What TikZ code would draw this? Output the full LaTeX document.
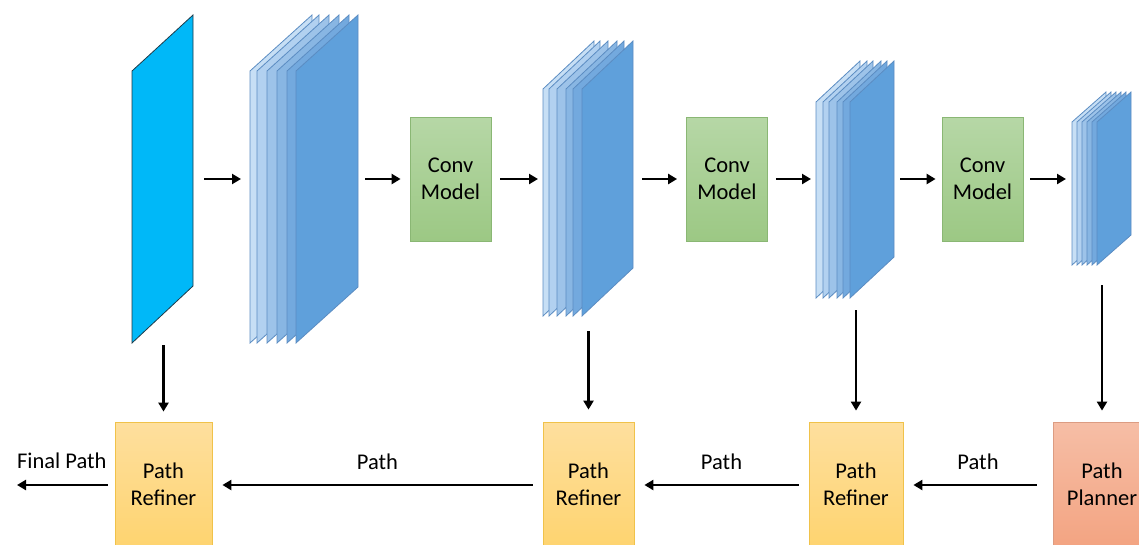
\documentclass[tikz,border=0pt]{standalone}
\usepackage{fontspec}
\setmainfont{Carlito}
\usetikzlibrary{arrows.meta,fit}

% sheet fills, back to front
\definecolor{sh1}{HTML}{C7DFF5}
\definecolor{sh2}{HTML}{B2D1F0}
\definecolor{sh3}{HTML}{9DC3E9}
\definecolor{sh4}{HTML}{88B6E3}
\definecolor{sh5}{HTML}{73A9DE}
\definecolor{sh6}{HTML}{5FA0DB}
\definecolor{sheetline}{HTML}{5B8CC2}
\definecolor{inputfill}{HTML}{00B8F8}
\definecolor{inputline}{HTML}{1F3A48}
\definecolor{convtop}{HTML}{B6D7A6}
\definecolor{convbot}{HTML}{9CC884}
\definecolor{convline}{HTML}{8AB774}
\definecolor{reftop}{HTML}{FEDF9E}
\definecolor{refbot}{HTML}{FED470}
\definecolor{refline}{HTML}{F0C24A}
\definecolor{plantop}{HTML}{F6BEA6}
\definecolor{planbot}{HTML}{F3A482}
\definecolor{planline}{HTML}{DC9C82}

\tikzset{
  lbl/.style={font=\fontsize{22.5}{27}\selectfont, align=center},
  sheet/.style={draw=sheetline, line width=0.8pt, line join=miter},
  bbox/.style={inner sep=0pt, outer sep=0pt},
  convbox/.style={lbl, draw=convline, line width=0.8pt, top color=convtop,
    bottom color=convbot, minimum width=81pt, minimum height=124pt, inner sep=0pt},
  refbox/.style={lbl, draw=refline, line width=0.8pt, top color=reftop,
    bottom color=refbot, minimum height=124pt, inner sep=0pt},
  planbox/.style={lbl, draw=planline, line width=0.8pt, top color=plantop,
    bottom color=planbot, minimum height=124pt, inner sep=0pt},
  arr/.style={line width=2.8pt, -{Triangle[length=9pt,width=10pt]}},
}

% stack of feature sheets: #1 list of left edges, #2 top-left y,
% #3 sheet depth in x, #4 rise of the top edge, #5 sheet height
\newcommand\featstack[5]{%
  \foreach \xx [count=\k] in {#1} {
    \draw[sheet, fill=sh\k] (\xx,#2) -- ++(#3,-#4) -- ++(0,#5) -- ++(-#3,#4) -- cycle;
  }%
}

\begin{document}
\begin{tikzpicture}[x=1pt,y=-1pt]
\useasboundingbox (0,0) rectangle (1139,544);
\clip (0,0) rectangle (1139,544);

% input plane
\draw[fill=inputfill, draw=inputline, line width=0.8pt]
  (132,71) -- (193,15) -- (193,286) -- (132,343) -- cycle;
\node[bbox, fit={(132,15) (193,343)}] (in) {};

% feature stacks
\featstack{250,257,267,277,287,296}{71}{62}{56}{272}
\node[bbox, fit={(250,15) (358,343)}] (s1) {};
\featstack{543,549,557,566,573,582}{89}{51}{48}{227}
\node[bbox, fit={(543,41) (633,316)}] (s2) {};
\featstack{816,823,829,837,843,850}{102}{44}{41}{196}
\node[bbox, fit={(816,61) (894,298)}] (s3) {};
\featstack{1072,1077,1082,1087,1092,1097}{122}{34}{30}{143}
\node[bbox, fit={(1072,92) (1131,265)}] (s4) {};

% convolution blocks
\node[convbox] (c1) at (450.5,179) {Conv\\Model};
\node[convbox] (c2) at (727,179) {Conv\\Model};
\node[convbox] (c3) at (982.5,179) {Conv\\Model};

% planner and refiners
\node[refbox, minimum width=97pt] (pr1) at (163.5,484) {Path\\Refiner};
\node[refbox, minimum width=91pt] (pr2) at (588.5,484) {Path\\Refiner};
\node[refbox, minimum width=94pt] (pr3) at (856,484) {Path\\Refiner};
\node[planbox, minimum width=98pt] (pl) at (1102,484) {Path\\Planner};
\coordinate (out) at (17,485);

% encoder chain
\draw[arr, shorten <=11pt, shorten >=9pt] (in.east) -- (in.east -| s1.west);
\draw[arr, shorten <=7pt, shorten >=9pt] (s1.east) -- (s1.east -| c1.west);
\draw[arr, shorten <=9pt, shorten >=5pt] (c1.east) -- (c1.east -| s2.west);
\draw[arr, shorten <=9pt, shorten >=9pt] (c2.west -| s2.east) -- (c2.west);
\draw[arr, shorten <=8pt, shorten >=5pt] (c2.east) -- (c2.east -| s3.west);
\draw[arr, shorten <=6pt, shorten >=6pt] (c3.west -| s3.east) -- (c3.west);
\draw[arr, shorten <=7pt, shorten >=6pt] (c3.east) -- (c3.east -| s4.west);

% feature maps down to planner / refiners
\draw[arr, shorten <=2pt, shorten >=10pt] (pr1.north |- in.south) -- (pr1.north);
\draw[arr, shorten <=15pt, shorten >=12pt] (pr2.north |- s2.south) -- (pr2.north);
\draw[arr, shorten <=12pt, shorten >=11pt] (pr3.north |- s3.south) -- (pr3.north);
\draw[arr, shorten <=20pt, shorten >=11pt] (pl.north |- s4.south) -- (pl.north);

% path flow back to the output
\draw[arr, shorten <=16pt, shorten >=10pt] ([yshift=-1pt]pl.west) -- ([yshift=-1pt]pr3.east)
  node[lbl, midway, yshift=23pt] {Path};
\draw[arr, shorten <=10pt, shorten >=10pt] ([yshift=-1pt]pr3.west) -- ([yshift=-1pt]pr2.east)
  node[lbl, midway, yshift=23pt] {Path};
\draw[arr, shorten <=10pt, shorten >=10pt] ([yshift=-1pt]pr2.west) -- ([yshift=-1pt]pr1.east)
  node[lbl, midway, yshift=23pt] {Path};
\draw[arr, shorten <=7pt] ([yshift=-1pt]pr1.west) -- (out)
  node[lbl, midway, xshift=-4pt, yshift=24pt] {Final Path};
\end{tikzpicture}
\end{document}
